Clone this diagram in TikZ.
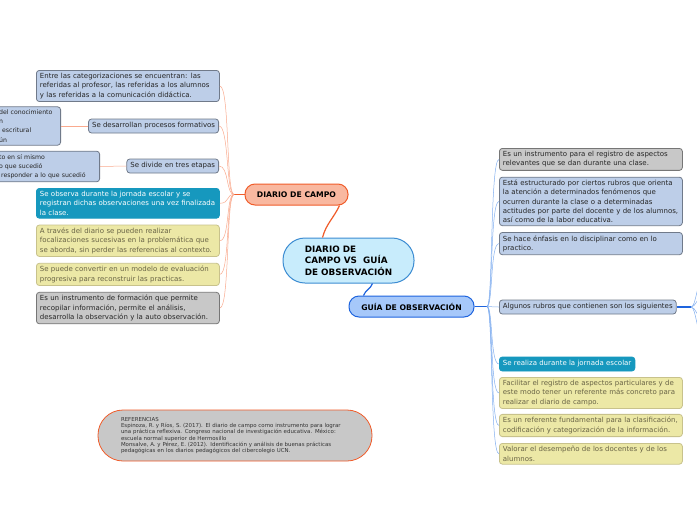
\documentclass[tikz,border=0pt]{standalone}
\usepackage{fontspec}
\setmainfont{DejaVu Sans}
\usetikzlibrary{positioning}

\definecolor{boxblue}{RGB}{189,206,232}
\definecolor{boxblueline}{RGB}{112,122,138}
\definecolor{boxgray}{RGB}{200,200,200}
\definecolor{boxgrayline}{RGB}{118,118,118}
\definecolor{boxteal}{RGB}{22,152,190}
\definecolor{boxyel}{RGB}{236,232,166}
\definecolor{boxyelline}{RGB}{200,194,140}
\definecolor{yeltext}{RGB}{105,100,70}
\definecolor{salmon}{RGB}{249,184,160}
\definecolor{redline}{RGB}{240,92,42}
\definecolor{paleline}{RGB}{250,170,142}
\definecolor{centerfill}{RGB}{200,236,252}
\definecolor{centerline}{RGB}{60,140,210}
\definecolor{guiafill}{RGB}{166,200,250}
\definecolor{guialine}{RGB}{30,100,222}
\definecolor{skyline}{RGB}{132,176,240}

\begin{document}
\begin{tikzpicture}[x=1pt, y=1pt,
        leaf/.style={rectangle, rounded corners=3pt, line width=0.8pt,
                     font=\fontsize{7}{9.2}\selectfont, align=left,
                     inner xsep=3.5pt, inner ysep=3pt, minimum height=14pt},
        wide/.style={leaf, text width=176pt},
        cut/.style={leaf, font=\fontsize{6.2}{9.2}\selectfont, anchor=east},
        bluebox/.style={draw=boxblueline, fill=boxblue, text=black!85},
        graybox/.style={draw=boxgrayline, fill=boxgray, text=black!85},
        tealbox/.style={draw=boxteal, fill=boxteal, text=white},
        yelbox/.style={draw=boxyelline, fill=boxyel, text=yeltext},
        topic/.style={rectangle, line width=1pt, font=\bfseries\fontsize{7.7}{9}\selectfont,
                      inner sep=0pt, minimum height=21pt},
        mainred/.style={draw=redline, line width=1.2pt},
        mainblue/.style={draw=guialine, line width=1.2pt},
        leftlink/.style={draw=paleline, line width=0.5pt},
        rightlink/.style={draw=skyline, line width=0.5pt},
        node distance=6pt]
      \path[use as bounding box, fill=white] (0,0) rectangle (697,-520);
      \clip (0,0) rectangle (697,-520);

      % central topic and its two branches
      \node[topic, draw=centerline, fill=centerfill, minimum width=131pt, minimum height=45pt,
            rounded corners=22pt, align=left, font=\bfseries\fontsize{8.8}{11.5}\selectfont]
            (ctr) at (348.5,-260.5) {DIARIO DE\\CAMPO VS\ \ GUÍA\\DE OBSERVACIÓN};
      \node[topic, draw=redline, fill=salmon, minimum width=103pt, rounded corners=10pt]
            (dc) at (296.5,-194.5) {DIARIO DE CAMPO};
      \node[topic, draw=guialine, fill=guiafill, minimum width=125pt, rounded corners=10pt]
            (go) at (411.5,-306.5) {GUÍA DE OBSERVACIÓN};

      % diario de campo
      \node[wide, bluebox, anchor=north west] (c1) at (36,-70)
            {Entre las categorizaciones se encuentran: las\\referidas al profesor, las referidas a los alumnos\\y las referidas a la comunicación didáctica.};
      \node[leaf, bluebox, anchor=east] (c2) at (219,-126) {Se desarrollan procesos formativos};
      \node[cut, bluebox, text width=58pt, minimum height=38pt] (c2a) at (61,-126)
            {del conocimiento\\n\\\hspace{3pt}escritural\\ún};
      \node[leaf, bluebox, anchor=east] (c3) at (219,-166) {Se divide en tres etapas};
      \node[cut, bluebox, text width=97pt] (c3a) at (100,-166.5)
            {to en sí mismo\\o que sucedió\\\hspace{2pt}responder a lo que sucedió};
      \node[wide, tealbox, anchor=north west] (c4) at (36,-188)
            {Se observa durante la jornada escolar y se\\registran dichas observaciones una vez finalizada\\la clase.};
      \node[wide, yelbox, below=of c4] (c5)
            {A través del diario se pueden realizar\\focalizaciones sucesivas en la problemática que\\se aborda, sin perder las referencias al contexto.};
      \node[wide, yelbox, below=of c5] (c6)
            {Se puede convertir en un modelo de evaluación\\progresiva para reconstruir las practicas.};
      \node[wide, graybox, below=of c6] (c7)
            {Es un instrumento de formación que permite\\recopilar información, permite el análisis,\\desarrolla la observación y la auto observación.};

      % guia de observacion
      \node[wide, graybox, anchor=north west] (r1) at (499,-148)
            {Es un instrumento para el registro de aspectos\\relevantes que se dan durante una clase.};
      \node[wide, bluebox, below=of r1] (r2)
            {Está estructurado por ciertos rubros que orienta\\la atención a determinados fenómenos que\\ocurren durante la clase o a determinadas\\actitudes por parte del docente y de los alumnos,\\así como de la labor educativa.};
      \node[wide, bluebox, below=of r2] (r3)
            {Se hace énfasis en lo disciplinar como en lo\\practico.};
      \node[leaf, bluebox, anchor=west] (r4) at (499,-307) {Algunos rubros que contienen son los siguientes};
      \node[leaf, tealbox, anchor=west] (r5) at (499,-364) {Se realiza durante la jornada escolar};
      \node[wide, yelbox, anchor=north west] (r6) at (499,-377)
            {Facilitar el registro de aspectos particulares y de\\este modo tener un referente más concreto para\\realizar el diario de campo.};
      \node[wide, yelbox, below=5pt of r6] (r7)
            {Es un referente fundamental para la clasificación,\\codificación y categorización de la información.};
      \node[wide, yelbox, below=of r7] (r8)
            {Valorar el desempeño de los docentes y de los\\alumnos.};

      % referencias
      \node[rectangle, draw=redline, fill=boxgray, line width=0.8pt, rounded corners=25pt,
            minimum width=274pt, minimum height=51pt, text width=228pt, align=left,
            text=black!80, font=\fontsize{5.45}{6.3}\selectfont] (refs) at (235,-435.5)
            {REFERENCIAS\\Espinoza, R. y Ríos, S. (2017). El diario de campo como instrumento para lograr\\una práctica reflexiva. Congreso nacional de investigación educativa. México:\\escuela normal superior de Hermosillo\\Monsalve, A. y Pérez, E. (2012). Identificación y análisis de buenas prácticas\\pedagógicas en los diarios pedagógicos del cibercolegio UCN.};

      % hubs and free ends
      \coordinate (lh) at (234,-194.5);
      \coordinate (rh) at (487,-306.5);
      \coordinate (rh2) at (691,-307);
      \coordinate (o1) at (702,-281);
      \coordinate (o2) at (702,-297);
      \coordinate (o3) at (702,-318);
      \coordinate (o4) at (702,-335);

      % connectors
      \draw[mainred] ([xshift=-26pt]ctr.north) to[out=75, in=-115] ([xshift=43pt]dc.south);
      \draw[mainblue] ([xshift=24pt]ctr.south) to[out=-110, in=70] ([xshift=-48pt]go.north);
      \draw[mainred] (dc.west) -- (lh);
      \foreach \n in {c1,c2,c3,c4,c5,c6,c7}
        \draw[leftlink] (lh) .. controls +(-8,0) and +(10,0) .. (\n.east);
      \draw[leftlink] (c2.west) -- (c2a.east);
      \draw[leftlink] (c3.west) -- (c3a.east);
      \draw[mainblue] (go.east) -- (rh);
      \foreach \n in {r1,r2,r3,r4,r5,r6,r7,r8}
        \draw[rightlink] (rh) .. controls +(6,0) and +(-9,0) .. (\n.west);
      \draw[mainblue] (r4.east) -- (rh2);
      \foreach \n in {o1,o2,o3,o4}
        \draw[rightlink] (rh2) .. controls +(5,0) and +(-5,0) .. (\n);
    \end{tikzpicture}
\end{document}
